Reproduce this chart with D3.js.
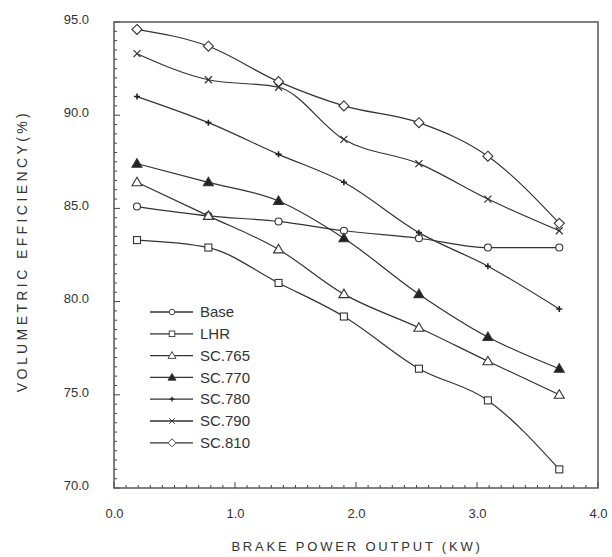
<!DOCTYPE html>
<html>
<head>
<meta charset="utf-8">
<script src="https://cdn.jsdelivr.net/npm/d3@7"></script>
<style>
  body { margin: 0; background: #fff; }
  text { font-family: "Liberation Sans", Arial, sans-serif; fill: #333; }
</style>
</head>
<body>
<script>
// brake power (kW) at the measured points
var power = [0.19, 0.78, 1.36, 1.9, 2.52, 3.09, 3.68];

var seriesNames = ["Base", "LHR", "SC.765", "SC.770", "SC.780", "SC.790", "SC.810"];
var base   = [85.1, 84.6, 84.3, 83.8, 83.4, 82.9, 82.9];
var lhr    = [83.3, 82.9, 81.0, 79.2, 76.4, 74.7, 71.0];
var sc765  = [86.4, 84.6, 82.8, 80.4, 78.6, 76.8, 75.0];
var sc770  = [87.4, 86.4, 85.4, 83.4, 80.4, 78.1, 76.4];
var sc780  = [91.0, 89.6, 87.9, 86.4, 83.7, 81.9, 79.6];
var sc790  = [93.3, 91.9, 91.5, 88.7, 87.4, 85.5, 83.8];
var sc810  = [94.6, 93.7, 91.8, 90.5, 89.6, 87.8, 84.2];
var markers = ["circle", "square", "triangle", "triangleFilled", "plus", "cross", "diamond"];

var xTicks = [0, 1, 2, 3, 4];
var yTicks = [70, 75, 80, 85, 90, 95];

var allValues = [base, lhr, sc765, sc770, sc780, sc790, sc810];

var margin = {top: 22, right: 14, bottom: 69, left: 114},
    width = 612 - margin.left - margin.right,
    height = 557 - margin.top - margin.bottom;

var svg = d3.select("body").append("svg")
    .attr("width", 612).attr("height", 557);
var g = svg.append("g")
    .attr("transform", "translate(" + margin.left + "," + margin.top + ")");

var x = d3.scaleLinear().domain([0, 4]).range([0, width]);
var y = d3.scaleLinear().domain([70, 95]).range([height, 0]);

// minor ticks inside the frame
var minorX = d3.range(0, 4.0001, 0.1);
var minorY = d3.range(70, 95.0001, 0.5);
g.append("g").selectAll("line").data(minorX).enter().append("line")
    .attr("x1", function(d){ return x(d); }).attr("x2", function(d){ return x(d); })
    .attr("y1", height).attr("y2", function(d, i){ return height - (i % 10 == 0 ? 6 : 3); })
    .attr("stroke", "#444").attr("stroke-width", 1);
g.append("g").selectAll("line").data(minorY).enter().append("line")
    .attr("y1", function(d){ return y(d); }).attr("y2", function(d){ return y(d); })
    .attr("x1", 0).attr("x2", function(d, i){ return i % 10 == 0 ? 6 : 3; })
    .attr("stroke", "#444").attr("stroke-width", 1);

// frame
g.append("rect").attr("width", width).attr("height", height)
    .attr("fill", "none").attr("stroke", "#555").attr("stroke-width", 1.5);

// tick labels via axes
var xAxis = g.append("g").attr("transform", "translate(0," + height + ")")
    .call(d3.axisBottom(x).tickValues(xTicks).tickSize(0).tickPadding(21)
        .tickFormat(d3.format(".1f")));
var yAxis = g.append("g")
    .call(d3.axisLeft(y).tickValues(yTicks).tickSize(0).tickPadding(25)
        .tickFormat(d3.format(".1f")));
[xAxis, yAxis].forEach(function(a){
  a.select(".domain").remove();
  a.selectAll("text").style("font-size", "13px").attr("fill", "#333")
      .style("font-family", "'Liberation Sans', Arial, sans-serif");
});
yAxis.selectAll("text").attr("dy", "0.1em");

// axis titles
svg.append("text").attr("x", 357).attr("y", 551).attr("text-anchor", "middle")
    .style("font-size", "13px").style("letter-spacing", "2.8px")
    .text("BRAKE POWER OUTPUT (KW)");
svg.append("text").attr("transform", "translate(27,251) rotate(-90)")
    .attr("text-anchor", "middle")
    .style("font-size", "14px").style("letter-spacing", "3.4px")
    .text("VOLUMETRIC EFFICIENCY(%)");

var line = d3.line()
    .x(function(d, i){ return x(power[i]); })
    .y(function(d){ return y(d); })
    .curve(d3.curveMonotoneX);

function drawMarker(sel, type, cx, cy, k) {
  var s = sel.append("g").attr("transform", "translate(" + cx + "," + cy + ") scale(" + (k || 1) + ")");
  var st = {stroke: "#333", "stroke-width": 1.1};
  if (type == "circle") {
    s.append("circle").attr("r", 3.5).attr("fill", "#fff").attr("stroke", st.stroke).attr("stroke-width", st["stroke-width"]);
  } else if (type == "square") {
    s.append("rect").attr("x", -3.5).attr("y", -3.5).attr("width", 7).attr("height", 7)
        .attr("fill", "#fff").attr("stroke", st.stroke).attr("stroke-width", st["stroke-width"]);
  } else if (type == "triangle" || type == "triangleFilled") {
    s.append("path").attr("d", "M0,-5L5,3.5L-5,3.5Z")
        .attr("fill", type == "triangle" ? "#fff" : "#222").attr("stroke", st.stroke).attr("stroke-width", st["stroke-width"]);
  } else if (type == "plus") {
    s.append("path").attr("d", "M-3,0H3M0,-3V3").attr("stroke", "#222").attr("stroke-width", 1.6);
  } else if (type == "cross") {
    s.append("path").attr("d", "M-3.5,-3.5L3.5,3.5M-3.5,3.5L3.5,-3.5").attr("stroke", "#333").attr("stroke-width", 1.2);
  } else if (type == "diamond") {
    s.append("path").attr("d", "M0,-5L5,0L0,5L-5,0Z")
        .attr("fill", "#fff").attr("stroke", st.stroke).attr("stroke-width", st["stroke-width"]);
  }
}

var series = g.append("g");
allValues.forEach(function(vals, k){
  series.append("path").attr("d", line(vals))
      .attr("fill", "none").attr("stroke", "#333").attr("stroke-width", 1.2);
});
allValues.forEach(function(vals, k){
  vals.forEach(function(v, i){ drawMarker(series, markers[k], x(power[i]), y(v)); });
});

// legend
var legend = svg.append("g").attr("transform", "translate(150,312)");
seriesNames.forEach(function(name, k){
  var row = legend.append("g").attr("transform", "translate(0," + (k * 21.8) + ")");
  row.append("line").attr("x1", 0).attr("x2", 43).attr("stroke", "#333").attr("stroke-width", 1.3);
  drawMarker(row, markers[k], 22, 0, 0.8);
  row.append("text").attr("x", 50).attr("y", 0).attr("dy", "0.35em")
      .style("font-size", "15px").text(name);
});
</script>
</body>
</html>
